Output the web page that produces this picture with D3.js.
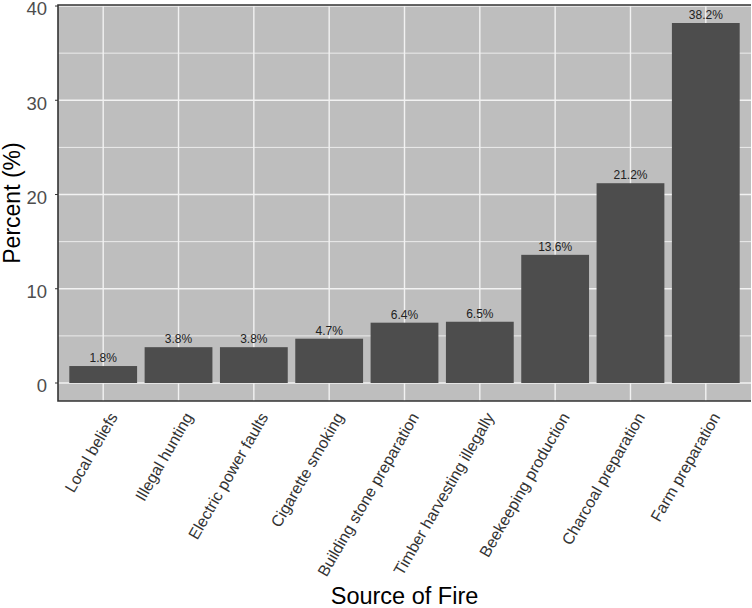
<!DOCTYPE html>
<html>
<head>
<meta charset="utf-8">
<script src="https://cdn.jsdelivr.net/npm/d3@7"></script>
<style>
  body { margin: 0; background: #fff; }
  text { font-family: "Liberation Sans", Arial, sans-serif; }
</style>
</head>
<body>
<script>
var categories = ["Local beliefs", "Illegal hunting", "Electric power faults", "Cigarette smoking",
    "Building stone preparation", "Timber harvesting illegally", "Beekeeping production",
    "Charcoal preparation", "Farm preparation"];
var percents = [1.8, 3.8, 3.8, 4.7, 6.4, 6.5, 13.6, 21.2, 38.2];
var yTicks = [0, 10, 20, 30, 40];
var yMinor = [5, 15, 25, 35];

var w = 752;
var h = 608;
var pLeft = 58, pRight = 751, pTop = 5, pBottom = 401;

var svg = d3.select("body").append("svg")
    .attr("width", w).attr("height", h);

// ggplot-like discrete scale: 0.6 expansion each side
var step = (pRight - pLeft) / (categories.length - 1 + 1.2);
var x = function (i) { return pLeft + (0.6 + i) * step; };

var ymax = d3.max(percents);
var y = d3.scaleLinear()
    .domain([-ymax * 0.05, ymax * 1.05])
    .range([pBottom, pTop]);

// panel
svg.append("rect")
    .attr("x", pLeft).attr("y", pTop)
    .attr("width", pRight - pLeft).attr("height", pBottom - pTop)
    .attr("fill", "#bebebe");

svg.selectAll(".minor")
    .data(yMinor)
    .enter().append("line")
    .attr("x1", pLeft).attr("x2", pRight)
    .attr("y1", d => y(d)).attr("y2", d => y(d))
    .attr("stroke", "#ececec").attr("stroke-width", 1);

svg.selectAll(".hgrid")
    .data(yTicks)
    .enter().append("line")
    .attr("x1", pLeft).attr("x2", pRight)
    .attr("y1", d => y(d)).attr("y2", d => y(d))
    .attr("stroke", "#f2f2f2").attr("stroke-width", 1.4);

svg.selectAll(".vgrid")
    .data(categories)
    .enter().append("line")
    .attr("x1", (d, i) => x(i)).attr("x2", (d, i) => x(i))
    .attr("y1", pTop).attr("y2", pBottom)
    .attr("stroke", "#f2f2f2").attr("stroke-width", 1.4);

// bars
var barW = step * 0.9;
svg.selectAll(".bar")
    .data(percents)
    .enter().append("rect")
    .attr("class", "bar")
    .attr("x", (d, i) => x(i) - barW / 2)
    .attr("width", barW)
    .attr("y", d => y(d))
    .attr("height", d => y(0) - y(d))
    .attr("fill", "#4d4d4d");

svg.selectAll(".val")
    .data(percents)
    .enter().append("text")
    .attr("x", (d, i) => x(i))
    .attr("y", d => y(d) - 4)
    .attr("text-anchor", "middle")
    .attr("font-size", "12px")
    .attr("fill", "#222")
    .text(d => d.toFixed(1) + "%");

// border (top, left, bottom)
svg.append("path")
    .attr("d", "M" + pRight + "," + pTop + "H" + pLeft + "V" + pBottom + "H" + pRight)
    .attr("fill", "none")
    .attr("stroke", "#333")
    .attr("stroke-width", 1.6);

// y axis labels
svg.selectAll(".ytick")
    .data(yTicks)
    .enter().append("line")
    .attr("x1", pLeft - 3).attr("x2", pLeft)
    .attr("y1", d => y(d)).attr("y2", d => y(d))
    .attr("stroke", "#333");

svg.selectAll(".ylab")
    .data(yTicks)
    .enter().append("text")
    .attr("x", pLeft - 11)
    .attr("y", d => y(d))
    .attr("dy", "0.5em")
    .attr("text-anchor", "end")
    .attr("font-size", "18.5px")
    .attr("fill", "#4d4d4d")
    .text(d => d);

// x labels
svg.selectAll(".xlab")
    .data(categories)
    .enter().append("text")
    .attr("transform", (d, i) => "translate(" + (x(i) + 5) + "," + 411 + ") rotate(-60)")
    .attr("dy", "0.72em")
    .attr("text-anchor", "end")
    .attr("font-size", "16px")
    .attr("fill", "#333")
    .text(d => d);

// axis titles
svg.append("text")
    .attr("x", (pLeft + pRight) / 2)
    .attr("y", 604)
    .attr("text-anchor", "middle")
    .attr("font-size", "23.5px")
    .attr("fill", "#000")
    .text("Source of Fire");

svg.append("text")
    .attr("transform", "translate(20," + ((pTop + pBottom) / 2) + ") rotate(-90)")
    .attr("text-anchor", "middle")
    .attr("font-size", "23px")
    .attr("fill", "#000")
    .text("Percent (%)");
</script>
</body>
</html>
